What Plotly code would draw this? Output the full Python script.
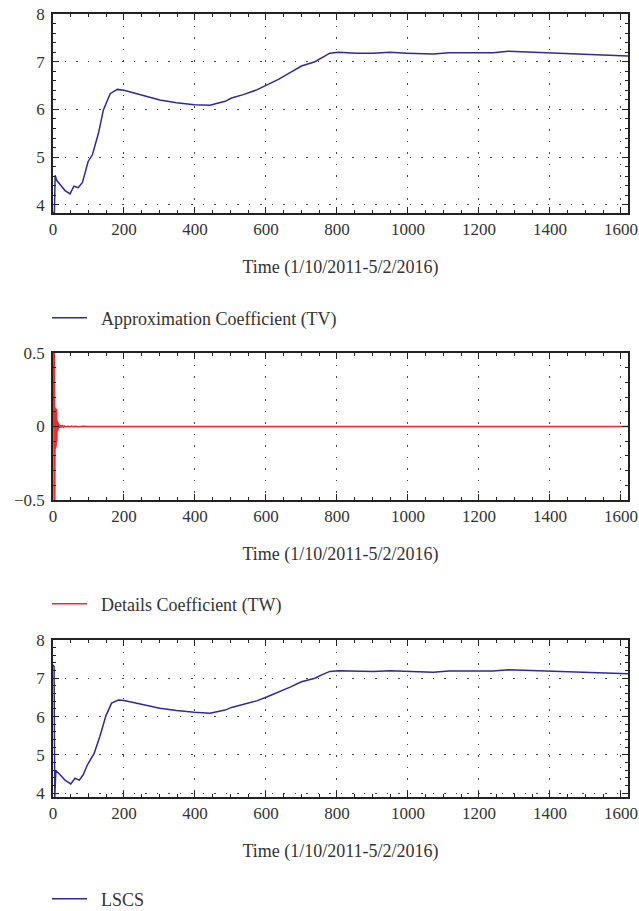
import plotly.graph_objects as go

# ---- data ----
tv_x = [0, 4, 6, 10, 24, 34, 48, 59, 71, 83, 99, 111, 128, 142, 161, 181, 200, 245, 301, 348, 398,
        442, 466, 485, 503, 536, 574, 602, 635, 668, 700, 738, 757, 780, 804, 855, 902, 949, 996,
        1025, 1071, 1116, 1146, 1240, 1283, 1400, 1513, 1620]
tv_y = [3.84, 3.84, 4.62, 4.52, 4.39, 4.30, 4.23, 4.39, 4.36, 4.47, 4.91, 5.05, 5.50, 5.99, 6.33, 6.42,
        6.40, 6.31, 6.20, 6.14, 6.10, 6.09, 6.13, 6.17, 6.24, 6.31, 6.41, 6.51, 6.63, 6.77, 6.91, 7.00,
        7.09, 7.18, 7.20, 7.18, 7.18, 7.20, 7.18, 7.17, 7.16, 7.19, 7.19, 7.19, 7.22, 7.19, 7.16, 7.12]

tw_x = [0, 2, 3, 4, 5, 6, 7, 8, 9, 10, 11, 12, 13, 14, 15, 16, 17, 18, 20, 22, 24, 27, 30, 32, 37, 42,
        47, 52, 57, 62, 72, 82, 100, 200, 1620]
tw_y = [0, 0.5, -0.5, 0.5, -0.5, 0.13, -0.15, 0.13, -0.12, 0.12, -0.10, 0.04, -0.03, 0.03, -0.02,
        0.02, -0.01, 0.01, -0.008, 0.008, -0.005, 0.005, -0.004, 0.004, -0.003, 0.003, -0.003,
        0.003, -0.002, 0.002, -0.002, 0.001, 0, 0, 0]

lscs_x = [0, 3, 5, 8, 20, 34, 50, 62, 74, 85, 97, 109, 116, 132, 149, 165, 184, 200, 245, 301, 348,
          398, 442, 466, 485, 503, 536, 574, 602, 635, 668, 700, 738, 757, 780, 804, 855, 902, 949,
          996, 1025, 1071, 1116, 1146, 1240, 1283, 1400, 1513, 1620]
lscs_y = [7.35, 7.30, 3.90, 4.59, 4.48, 4.34, 4.24, 4.39, 4.34, 4.48, 4.74, 4.95, 5.04, 5.48, 6.02,
          6.35, 6.43, 6.42, 6.33, 6.22, 6.16, 6.11, 6.09, 6.13, 6.17, 6.24, 6.31, 6.41, 6.51, 6.63,
          6.77, 6.91, 7.00, 7.09, 7.18, 7.20, 7.18, 7.18, 7.20, 7.18, 7.17, 7.16, 7.19, 7.19, 7.19,
          7.22, 7.19, 7.16, 7.12]

x_title = "Time (1/10/2011-5/2/2016)"
names = ["Approximation Coefficient (TV)", "Details Coefficient (TW)", "LSCS"]

BLUE = "#2e2a98"
RED = "#f52a2a"
FONT = "Liberation Serif"
W, H = 639, 911
NB = "\u00a0\u00a0"

fig = go.Figure()
fig.add_trace(go.Scatter(x=tv_x, y=tv_y, mode="lines", name=NB + names[0],
                         line=dict(color=BLUE, width=1.5), xaxis="x", yaxis="y", legend="legend"))
fig.add_trace(go.Scatter(x=tw_x, y=tw_y, mode="lines", name=NB + names[1],
                         line=dict(color=RED, width=1.5), xaxis="x2", yaxis="y2", legend="legend2"))
fig.add_trace(go.Scatter(x=lscs_x, y=lscs_y, mode="lines", name=NB + names[2],
                         line=dict(color=BLUE, width=1.5), xaxis="x3", yaxis="y3", legend="legend3"))

xd = [53 / W, 628 / W]
panels = [(14, 213), (353, 500), (640, 797)]
yranges = [[3.83, 8], [-0.5, 0.5], [3.9, 8]]
ydticks = [1, 0.5, 1]
yminor = [0.2, 0.1, 0.2]

tickfont = dict(family=FONT, size=17, color="#333")
grid = dict(showgrid=True, gridcolor="#444", gridwidth=1, griddash="1.5px,10px")
common = dict(showline=True, linecolor="#222", linewidth=1.5, mirror="allticks",
              ticks="inside", ticklen=6, tickwidth=1.2, tickcolor="#222",
              tickfont=tickfont, zeroline=False, **grid)

layout = dict(width=W, height=H, margin=dict(l=0, r=0, t=0, b=0, autoexpand=False),
              paper_bgcolor="white", plot_bgcolor="white",
              font=dict(family=FONT, size=17, color="#333"))

for i, (top, bot) in enumerate(panels):
    sfx = "" if i == 0 else str(i + 1)
    yd = [1 - bot / H, 1 - top / H]
    layout["xaxis" + sfx] = dict(domain=xd, anchor="y" + sfx, range=[0, 1620], dtick=200, tick0=0,
                                 minor=dict(dtick=50, ticks="inside", ticklen=3, tickcolor="#222", showgrid=False),
                                 title=dict(text=x_title, standoff=22, font=dict(family=FONT, size=18, color="#333")),
                                 ticklabelstandoff=0,
                                 **common)
    layout["yaxis" + sfx] = dict(domain=yd, anchor="x" + sfx, range=yranges[i], dtick=ydticks[i],
                                 tick0=0,
                                 minor=dict(dtick=yminor[i], ticks="inside", ticklen=3, tickcolor="#222", showgrid=False),
                                 ticklabelstandoff=3,
                                 **common)
    lname = "legend" if i == 0 else "legend" + str(i + 1)
    ly = [318, 604, 899][i]
    layout[lname] = dict(x=(53 - 6) / W, xanchor="left", y=1 - ly / H, yanchor="middle",
                         font=dict(family=FONT, size=18, color="#333"), bgcolor="rgba(0,0,0,0)",
                         itemwidth=35)

fig.update_layout(**layout)
fig.update_layout(showlegend=True)
fig.write_html("out.html", config={"displayModeBar": False},
               post_script="document.body.style.margin='0px';")
